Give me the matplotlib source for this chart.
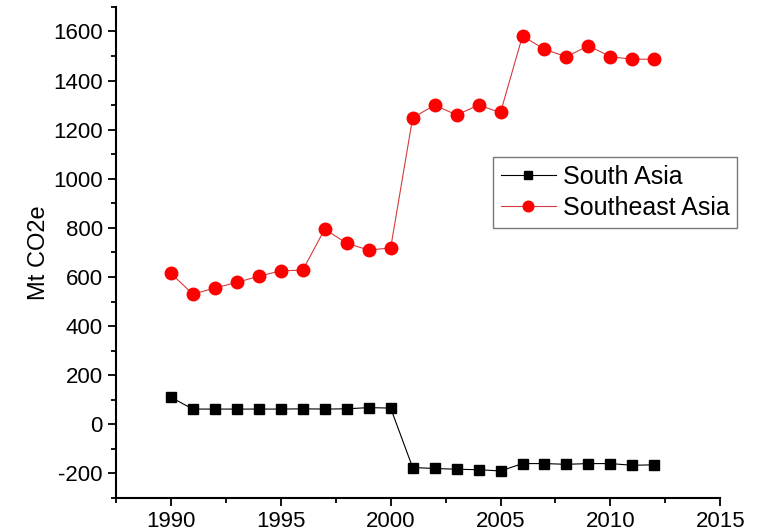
import matplotlib
matplotlib.use("Agg")
import matplotlib.pyplot as plt
from matplotlib.ticker import MultipleLocator

plt.rcParams['font.family'] = ['Liberation Sans', 'DejaVu Sans']
plt.rcParams['axes.unicode_minus'] = False

years = list(range(1990, 2013))
south_asia = [110, 62, 62, 62, 62, 62, 63, 62, 63, 68, 66,
              -176, -180, -183, -185, -190, -160, -160, -163, -160, -160, -167, -165]
southeast_asia = [615, 530, 555, 578, 603, 625, 628, 795, 737, 710, 718,
                  1248, 1300, 1260, 1300, 1270, 1582, 1527, 1497, 1542, 1497, 1487, 1487]

fig = plt.figure(figsize=(7.63, 5.32), dpi=100)
ax = fig.add_axes([0.152, 0.064, 0.792, 0.923])

ax.plot(years, south_asia, color='black', linewidth=0.8, marker='s',
        markersize=7.5, label='South Asia')
ax.plot(years, southeast_asia, color='#d43c3c', linewidth=0.8, marker='o',
        markerfacecolor='red', markeredgecolor='red', markersize=9,
        label='Southeast Asia')

ax.set_xlim(1987.5, 2015)
ax.set_ylim(-300, 1700)
ax.xaxis.set_major_locator(MultipleLocator(5))
ax.xaxis.set_minor_locator(MultipleLocator(2.5))
ax.yaxis.set_major_locator(MultipleLocator(200))
ax.yaxis.set_minor_locator(MultipleLocator(100))
ax.set_xticks([1990, 1995, 2000, 2005, 2010, 2015])

for s in ['top', 'right']:
    ax.spines[s].set_visible(False)
for s in ['left', 'bottom']:
    ax.spines[s].set_linewidth(1.5)

ax.tick_params(which='major', direction='out', length=6, width=1.3, labelsize=16)
ax.tick_params(which='minor', direction='out', length=3.5, width=1.3)
ax.set_ylabel('Mt CO2e', fontsize=17, labelpad=2)

leg = ax.legend(loc='upper left', bbox_to_anchor=(0.624, 0.694), fontsize=18,
                frameon=True, fancybox=False, edgecolor='#555555',
                handlelength=2.2, borderpad=0.3, labelspacing=0.3,
                handletextpad=0.3, borderaxespad=0, markerscale=0.85)
leg.get_frame().set_linewidth(1.0)

fig.savefig('out.png', dpi=100)
